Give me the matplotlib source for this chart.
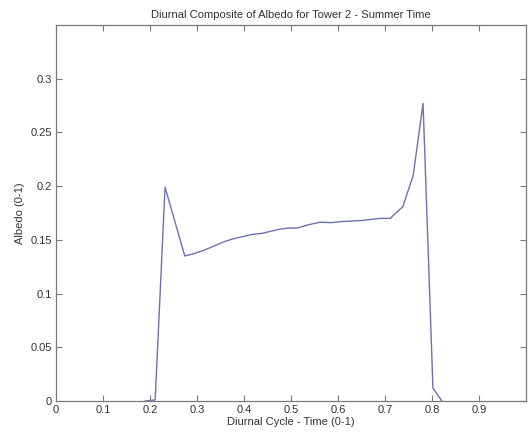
#!/usr/bin/env python3
# -*- coding: utf-8 -*-

import matplotlib
matplotlib.use('Agg')
import matplotlib.pyplot as plt


# суточный цикл (доли суток) и альбедо, башня 2, лето
time = [0.19, 0.211, 0.232, 0.274, 0.292, 0.313, 0.335, 0.356, 0.377,
        0.417, 0.438, 0.457, 0.477, 0.495, 0.513, 0.537, 0.562, 0.585,
        0.607, 0.628, 0.650, 0.670, 0.690, 0.711, 0.738, 0.760, 0.781,
        0.802, 0.821]
albedo = [0.0, 0.001, 0.199, 0.135, 0.137, 0.140, 0.144, 0.148, 0.151,
          0.155, 0.156, 0.158, 0.160, 0.161, 0.161, 0.164, 0.1665, 0.166,
          0.167, 0.1675, 0.168, 0.169, 0.170, 0.170, 0.181, 0.210, 0.277,
          0.012, 0.0]

xticks = [0, 0.1, 0.2, 0.3, 0.4, 0.5, 0.6, 0.7, 0.8, 0.9]
yticks = [0, 0.05, 0.1, 0.15, 0.2, 0.25, 0.3]


def drawAlbedo():
    ''' График суточного хода альбедо
    '''
    plt.rcParams['font.family'] = ['Liberation Sans', 'DejaVu Sans']

    fig = plt.figure(figsize=(5.3, 4.34), dpi=100)
    ax = fig.add_axes([56 / 530, 33 / 434, 470 / 530, 376 / 434])

    ax.plot(time, albedo, '-', color='#6d70b4', lw=1.0)

    ax.set_xlim(0, 1)
    ax.set_ylim(0, 0.35)
    ax.set_xticks(xticks)
    ax.set_xticklabels(['0', '0.1', '0.2', '0.3', '0.4', '0.5',
                        '0.6', '0.7', '0.8', '0.9'])
    ax.set_yticks(yticks)
    ax.set_yticklabels(['0', '0.05', '0.1', '0.15', '0.2', '0.25', '0.3'])

    for sp in ax.spines.values():
        sp.set_color('#7a7a7a')
        sp.set_linewidth(0.9)
    ax.tick_params(direction='in', length=4, width=0.8, color='#7a7a7a',
                   labelsize=8, labelcolor='#333333',
                   top=True, right=True, pad=3)

    ax.set_xlabel('Diurnal Cycle - Time (0-1)', fontsize=8, color='#333333',
                  labelpad=1)
    ax.set_ylabel('Albedo (0-1)', fontsize=8, color='#333333', labelpad=4)
    ax.set_title('Diurnal Composite of Albedo for Tower 2 - Summer Time',
                 fontsize=8, color='#333333', pad=5)

    fig.savefig('out.png', dpi=100, facecolor='white')


if __name__ == "__main__":
    drawAlbedo()
